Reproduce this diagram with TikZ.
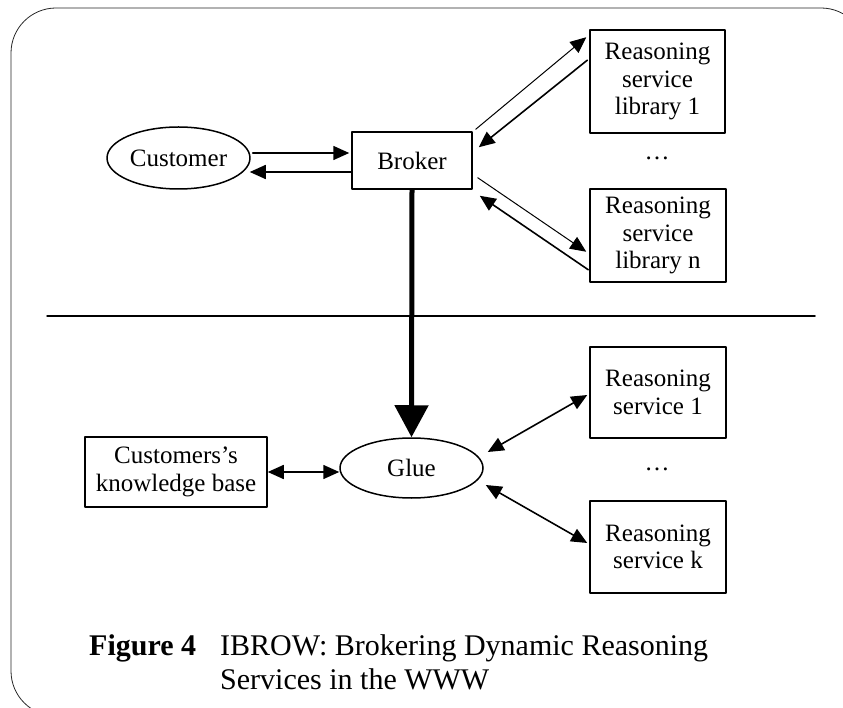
\documentclass[tikz,border=0pt]{standalone}
\usepackage{fontspec}
\setmainfont{Liberation Serif}
\usepackage{tikz}
\usetikzlibrary{arrows.meta}
\usetikzlibrary{shapes.geometric}
\usetikzlibrary{calc}

\begin{document}
\begin{tikzpicture}[line cap=round,line join=round,>={Triangle[length=16pt,width=14pt]},x=1pt,y=-1pt,
    box/.style={draw,line width=1.5pt,inner sep=0pt,align=center,font=\fontsize{25}{27.5}\selectfont},
    oval/.style={draw,ellipse,line width=1.5pt,inner sep=0pt,font=\fontsize{25}{27.5}\selectfont},
    link/.style={->,line width=1.6pt},
    thinlink/.style={->,line width=1pt},
    both/.style={<->,line width=1.6pt},
    capt/.style={anchor=base west,inner sep=0pt,font=\fontsize{30}{34}\selectfont}]
    \useasboundingbox (0,0) rectangle (843,708);
    \draw[line width=0.8pt,color=black!85,rounded corners=45pt] (11,8) rectangle (866,716);
    % upper half: brokering
    \node[oval,minimum width=143pt,minimum height=62pt] (customer) at (178.5,158) {Customer};
    \node[box,minimum width=120pt,minimum height=57pt] (broker) at (412,160.5) {Broker};
    \node[box,minimum width=135pt,minimum height=103pt] (lib1) at (657.5,81.5) {Reasoning\\service\\library 1};
    \node[box,minimum width=136pt,minimum height=93pt] (libn) at (658,235.5) {Reasoning\\service\\library n};
    \node[inner sep=0pt,font=\fontsize{25}{27.5}\selectfont] (libdots) at (657,158) {\dots};
    \draw[link] ($(customer.east)+(2,-5)$) -- ($(broker.west)+(-2,-7.5)$);
    \draw[link] ($(broker.west)+(0,11.5)$) -- ($(customer.east)+(-1,14)$);
    \draw[thinlink] ([xshift=3pt,yshift=2pt]broker.north east) -- ([xshift=-3pt,yshift=-8pt]lib1.north west);
    \draw[link] ([xshift=-2pt,yshift=-31pt]lib1.north west) -- ([xshift=6pt,yshift=-16pt]broker.north east);
    \draw[thinlink] ([xshift=5pt,yshift=12pt]broker.south east) -- ([xshift=-3pt,yshift=31pt]libn.south west);
    \draw[link] ([xshift=-1pt,yshift=13pt]libn.south west) -- ([xshift=7pt,yshift=-6pt]broker.south east);
    % separator
    \coordinate (sepl) at (47,316);
    \coordinate (sepr) at (815,316);
    \draw[line width=1.5pt] (sepl) -- (sepr);
    % lower half: glue
    \node[oval,minimum width=143pt,minimum height=60pt] (glue) at (411.5,468) {Glue};
    \node[box,minimum width=182pt,minimum height=70pt] (kb) at (176,472) {Customers's\\knowledge base};
    \node[box,minimum width=136pt,minimum height=91pt] (serv1) at (658,392.5) {Reasoning\\service 1};
    \node[box,minimum width=136pt,minimum height=92pt] (servk) at (658,547) {Reasoning\\service k};
    \node[inner sep=0pt,font=\fontsize{25}{27.5}\selectfont] (servdots) at (657,469) {\dots};
    \draw[line width=5pt,line cap=butt,-{Triangle[length=32pt,width=33pt]}] (broker.south) -- (glue.north);
    \draw[both] (kb.east) -- (glue.west |- kb.east);
    \draw[both] ([xshift=4pt,yshift=16pt]glue.east) -- ([xshift=-2pt,yshift=-2.5pt]serv1.west);
    \draw[both] ([xshift=2pt,yshift=-17pt]glue.east) -- ([xshift=-2pt,yshift=4pt]servk.west);
    % caption
    \node[capt,font=\fontsize{30}{34}\selectfont\bfseries] (figno) at (89,655) {Figure 4};
    \node[capt] (figtitle) at (220,655) {IBROW: Brokering Dynamic Reasoning};
    \node[capt] (figtitle2) at (220,689) {Services in the WWW};
\end{tikzpicture}
\end{document}
